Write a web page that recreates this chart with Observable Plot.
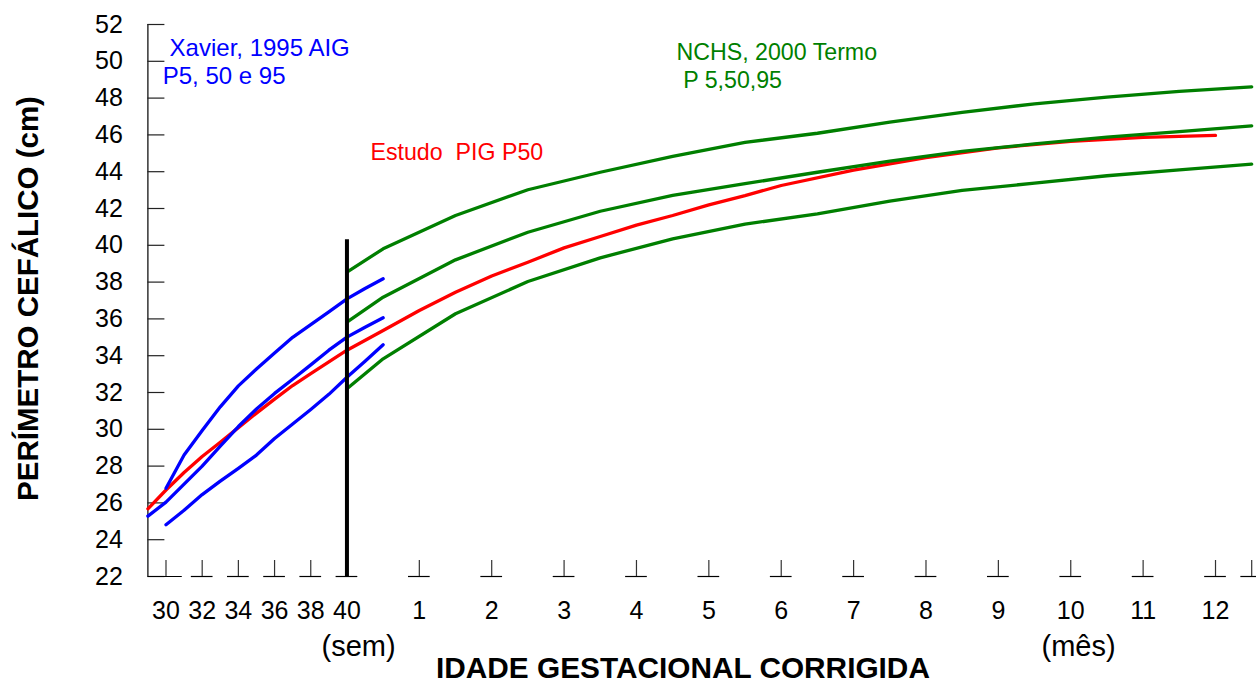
<!DOCTYPE html>
<html>
<head>
<meta charset="utf-8">
<script src="https://cdn.jsdelivr.net/npm/d3@7"></script>
<script src="https://cdn.jsdelivr.net/npm/@observablehq/plot@0.6"></script>
<style>
  html, body { margin: 0; padding: 0; background: #fff; overflow: hidden; }
  svg { display: block; }
</style>
</head>
<body>
<div id="chart"></div>
<script>
// ---- Data ----
// Xavier 1995 AIG (weeks of gestational age)
const xavierWeeks = [29, 30, 31, 32, 33, 34, 35, 36, 37, 38, 39, 40, 41, 42];
const xavierP5  = [null, 24.81, 25.60, 26.45, 27.18, 27.88, 28.60, 29.50, 30.29, 31.08, 31.90, 32.83, 33.70, 34.59];
const xavierP50 = [25.28, 26.04, 27.02, 28.00, 29.08, 30.15, 31.10, 31.95, 32.72, 33.50, 34.30, 35.01, 35.55, 36.06];
const xavierP95 = [null, 26.80, 28.60, 29.94, 31.22, 32.36, 33.28, 34.15, 35.00, 35.69, 36.38, 37.09, 37.65, 38.18];

// NCHS 2000 term (months after term)
const nchsMonths = [0, 0.5, 1.5, 2.5, 3.5, 4.5, 5.5, 6.5, 7.5, 8.5, 9.5, 10.5, 11.5, 12.5];
const nchsP5  = [32.20, 33.83, 36.28, 38.03, 39.32, 40.35, 41.15, 41.71, 42.40, 42.98, 43.38, 43.78, 44.10, 44.41];
const nchsP50 = [35.82, 37.18, 39.21, 40.71, 41.85, 42.71, 43.35, 43.97, 44.57, 45.10, 45.51, 45.88, 46.18, 46.49];
const nchsP95 = [38.54, 39.81, 41.62, 43.02, 43.97, 44.83, 45.59, 46.09, 46.69, 47.23, 47.69, 48.05, 48.36, 48.61];

// Estudo PIG P50: weeks part, then months part
const pigWeeks = [29, 30, 31, 32, 33, 34, 35, 36, 37, 38, 39, 40];
const pigWeekValues = [25.68, 26.70, 27.65, 28.52, 29.30, 30.09, 30.88, 31.64, 32.38, 33.03, 33.67, 34.30];
const pigMonths = [0.5, 1, 1.5, 2, 2.5, 3, 3.5, 4, 4.5, 5, 5.5, 6, 7, 8, 9, 10, 11, 12];
const pigMonthValues = [35.37, 36.46, 37.45, 38.33, 39.08, 39.86, 40.48, 41.10, 41.62, 42.20, 42.70, 43.25, 44.08, 44.77, 45.30, 45.65, 45.87, 45.97];

// Axis ticks
const weekTicks = [30, 32, 34, 36, 38, 40];
const weekTickLabels = ["30", "32", "34", "36", "38", "40"];
const monthTicks = [1, 2, 3, 4, 5, 6, 7, 8, 9, 10, 11, 12];
const monthTickLabels = ["1", "2", "3", "4", "5", "6", "7", "8", "9", "10", "11", "12"];
const endMonthTick = 12.5;
const yTicks = [22, 24, 26, 28, 30, 32, 34, 36, 38, 40, 42, 44, 46, 48, 50, 52];
const termWeek = 40;
const termRuleTop = 40.3;

// ---- Helpers ----
// one month after term is drawn as 4 weeks on the shared axis
const monthToAxis = m => termWeek + 4 * m;

const xavierRows = [];
[["P5", xavierP5], ["P50", xavierP50], ["P95", xavierP95]].forEach(([s, vals]) =>
  xavierWeeks.forEach((w, i) => xavierRows.push({pos: w, value: vals[i], series: s})));

const nchsRows = [];
[["P5", nchsP5], ["P50", nchsP50], ["P95", nchsP95]].forEach(([s, vals]) =>
  nchsMonths.forEach((m, i) => nchsRows.push({pos: monthToAxis(m), value: vals[i], series: s})));

const pigRows = [
  ...pigWeeks.map((w, i) => ({pos: w, value: pigWeekValues[i]})),
  ...pigMonths.map((m, i) => ({pos: monthToAxis(m), value: pigMonthValues[i]}))
];

const labelMap = new Map();
weekTicks.forEach((w, i) => labelMap.set(w, weekTickLabels[i]));
monthTicks.forEach((m, i) => labelMap.set(monthToAxis(m), monthTickLabels[i]));
const labelTicks = [...labelMap.keys()];
const allTicks = [...labelTicks, monthToAxis(endMonthTick)];
const xMin = 29;
const baseSegments = allTicks.map((t, i) => i === 0 ? [xMin, t + 0.9] : [t - 0.6, t + 0.6]);

// ---- Layout ----
const W = 1256, H = 683;
const mt = 24, mb = 107, ml = 147.4, mr = 4.8;
const plotW = W - ml - mr, plotH = H - mt - mb;
const font = "'Liberation Sans', Arial, Helvetica, sans-serif";

const chart = Plot.plot({
  width: W,
  height: H,
  marginTop: mt,
  marginBottom: mb,
  marginLeft: ml,
  marginRight: mr,
  x: {domain: [xMin, monthToAxis(endMonthTick)]},
  y: {domain: [22, 52]},
  style: {fontFamily: font, fontSize: "25px", color: "black", background: "white"},
  marks: [
    // y axis
    Plot.ruleX([xMin], {y1: 22, y2: 52, stroke: "black", strokeWidth: 1.2}),
    Plot.tickY(yTicks, {y: d => d, stroke: "#222", strokeWidth: 1.2, insetRight: plotW - 17}),
    Plot.axisY({ticks: yTicks, tickSize: 0, tickPadding: 25, fontSize: 25, label: null}),
    // x axis: broken baseline with upward ticks
    Plot.ruleY(baseSegments, {y: 22, x1: d => d[0], x2: d => d[1], stroke: "black", strokeWidth: 1.2}),
    Plot.tickX(allTicks, {x: d => d, stroke: "#333", strokeWidth: 1.2, insetTop: plotH - 16}),
    Plot.axisX({ticks: labelTicks, tickFormat: d => labelMap.get(d), tickSize: 0, tickPadding: 25, fontSize: 25, label: null}),

    // curves
    Plot.line(pigRows, {x: "pos", y: "value", stroke: "#ff0000", strokeWidth: 3.3, strokeLinecap: "round", strokeLinejoin: "round"}),
    Plot.line(xavierRows, {x: "pos", y: "value", z: "series", stroke: "#0000ff", strokeWidth: 3.3, strokeLinecap: "round", strokeLinejoin: "round"}),
    Plot.line(nchsRows, {x: "pos", y: "value", z: "series", stroke: "#007f00", strokeWidth: 3.3, strokeLinecap: "round", strokeLinejoin: "round"}),

    // term marker
    Plot.ruleX([termWeek], {y1: 22, y2: termRuleTop, stroke: "black", strokeWidth: 4}),

    // annotations
    Plot.text(["Xavier, 1995 AIG"], {x: 30.2, y: 50.71, text: d => d, fill: "#0000ff", fontSize: 24, textAnchor: "start", lineAnchor: "middle"}),
    Plot.text(["P5, 50 e 95"], {x: 29.82, y: 49.18, text: d => d, fill: "#0000ff", fontSize: 24, textAnchor: "start", lineAnchor: "middle"}),
    Plot.text(["NCHS, 2000 Termo"], {x: 58.21, y: 50.49, text: d => d, fill: "#007f00", fontSize: 23.2, textAnchor: "start", lineAnchor: "middle"}),
    Plot.text(["P 5,50,95"], {x: 58.58, y: 48.94, text: d => d, fill: "#007f00", fontSize: 23.2, textAnchor: "start", lineAnchor: "middle"}),
    Plot.text(["Estudo  PIG P50"], {x: 41.3, y: 45.04, text: d => d, fill: "#ff0000", fontSize: 23.2, textAnchor: "start", lineAnchor: "middle"}),

    // axis titles
    Plot.text(["(sem)"], {x: 40.64, frameAnchor: "bottom", dy: 70, text: d => d, fontSize: 29, textAnchor: "middle", lineAnchor: "middle"}),
    Plot.text(["(mês)"], {x: 80.43, frameAnchor: "bottom", dy: 70, text: d => d, fontSize: 29, textAnchor: "middle", lineAnchor: "middle"}),
    Plot.text(["IDADE GESTACIONAL CORRIGIDA"], {x: 58.57, frameAnchor: "bottom", dy: 92, text: d => d, fontSize: 29.8, fontWeight: "bold", textAnchor: "middle", lineAnchor: "middle"}),
    Plot.text(["PERÍMETRO CEFÁLICO (cm)"], {y: 37.11, frameAnchor: "left", dx: -119.4, rotate: -90, text: d => d, fontSize: 29.5, fontWeight: "bold", textAnchor: "middle", lineAnchor: "middle"})
  ]
});

document.getElementById("chart").appendChild(chart);
</script>
</body>
</html>
